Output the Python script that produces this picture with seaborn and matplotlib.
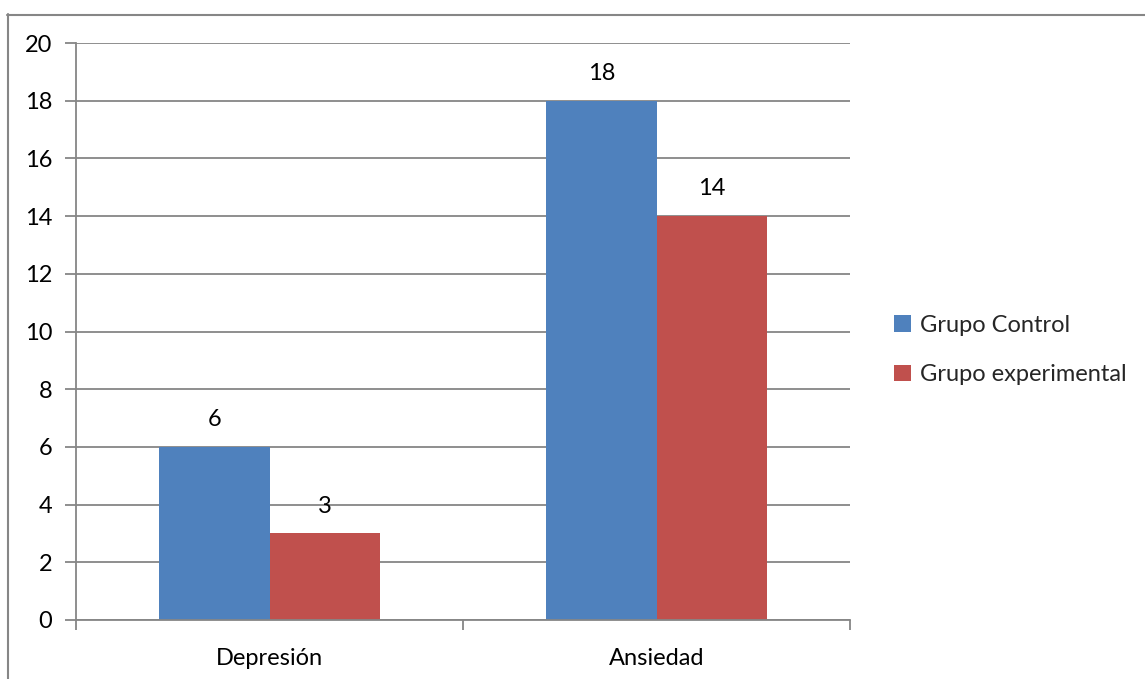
import matplotlib
matplotlib.use("Agg")
import matplotlib.pyplot as plt
from matplotlib.lines import Line2D
from matplotlib.patches import Patch
import seaborn as sns
import pandas as pd

categories = ["Depresión", "Ansiedad"]
series_names = ["Grupo Control", "Grupo experimental"]
control_values = [6, 18]
experimental_values = [3, 14]
y_ticks = [0, 2, 4, 6, 8, 10, 12, 14, 16, 18, 20]

colors = ["#4F81BD", "#C0504D"]
grid_color = "#868686"
FS = 17

df = pd.DataFrame({
    "categoria": categories * 2,
    "grupo": [series_names[0]] * 2 + [series_names[1]] * 2,
    "valor": control_values + experimental_values,
})

sns.set_theme(style="white")
plt.rcParams["font.family"] = ["Lato", "DejaVu Sans"]

W, H = 1145, 679
fig = plt.figure(figsize=(W / 100, H / 100), dpi=100)
ax = fig.add_axes([76 / W, 1 - 620 / H, (850 - 76) / W, (620 - 43) / H])

sns.barplot(data=df, x="categoria", y="valor", hue="grupo", order=categories,
            hue_order=series_names, palette=colors, width=0.57, gap=0,
            saturation=1, linewidth=0, edgecolor="none", ax=ax, legend=False)

for cont in ax.containers:
    ax.bar_label(cont, fmt="%g", padding=12, fontsize=FS, color="black")

ax.set_ylim(0, 20)
ax.set_xlim(-0.5, 1.5)
ax.set_yticks(y_ticks)
ax.set_yticklabels([str(v) for v in y_ticks])
ax.yaxis.grid(True, color=grid_color, linewidth=1.3)
ax.set_axisbelow(True)
ax.set_xlabel("")
ax.set_ylabel("")

for side in ["top", "right"]:
    ax.spines[side].set_visible(False)
for side in ["left", "bottom"]:
    ax.spines[side].set_color(grid_color)
    ax.spines[side].set_linewidth(1.3)

# y ticks: outward marks on the left; x ticks at category boundaries
ax.tick_params(axis="y", which="major", left=True, length=8, width=1.3,
               color=grid_color, labelsize=FS, pad=9, labelcolor="black")
ax.tick_params(axis="x", which="major", bottom=False, labelsize=FS, pad=14,
               labelcolor="black")
ax.set_xticks([-0.5, 0.5, 1.5], minor=True)
ax.tick_params(axis="x", which="minor", bottom=True, length=7, width=1.3,
               color=grid_color)

handles = [Patch(facecolor=c, edgecolor="none") for c in colors]
fig.legend(handles, series_names, loc="center left",
           bbox_to_anchor=(873 / W, 1 - 350 / H), frameon=False,
           fontsize=FS, handlelength=0.7, handleheight=0.7,
           handletextpad=0.4, labelspacing=1.2)

# outer chart frame
fig.add_artist(Line2D([7.5 / W, 7.5 / W], [0, 1 - 14 / H],
                      transform=fig.transFigure, color=grid_color, linewidth=1.5))
fig.add_artist(Line2D([7 / W, 1], [1 - 14.5 / H, 1 - 14.5 / H],
                      transform=fig.transFigure, color=grid_color, linewidth=1.5))

fig.savefig("out.png", dpi=100, facecolor="white")
